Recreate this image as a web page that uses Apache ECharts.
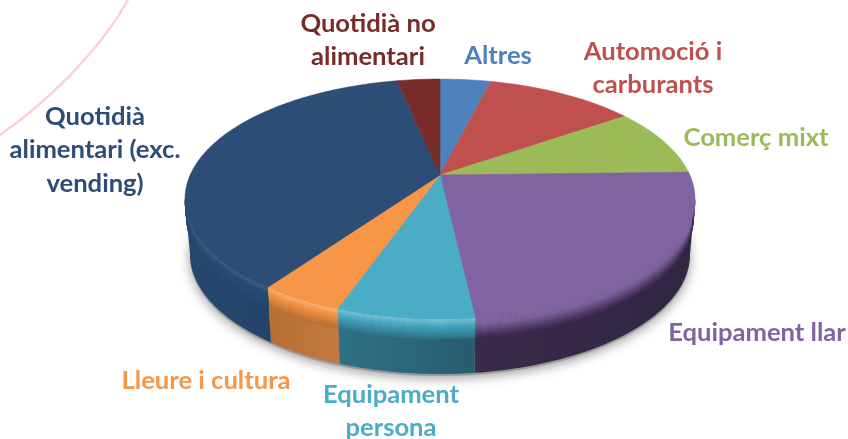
<!DOCTYPE html>
<html>
<head>
<meta charset="utf-8">
<title>Pie</title>
<style>
    html, body { margin: 0; padding: 0; background: #fff; }
    #chart { width: 848px; height: 439px; }
</style>
<script src="https://cdn.jsdelivr.net/npm/echarts@6/dist/echarts.min.js"></script>
</head>
<body>
<div id="chart"></div>
<script>
// values, share of the pie in %
var categories = ['Altres', 'Automoció i\ncarburants', 'Comerç mixt', 'Equipament llar', 'Equipament\npersona', 'Lleure i cultura', 'Quotidià\nalimentari (exc.\nvending)', 'Quotidià no\nalimentari'];
var shares = [3.9, 11.5, 9.2, 23.6, 7.2, 4.4, 36.9, 3.3];

var faceColors = ['#4f81bd', '#c0504d', '#9bbb59', '#8064a2', '#4bacc6', '#f79646', '#2c4d75', '#772c2a'];
var labelColors = ['#4f81bd', '#c0504d', '#9bbb59', '#8064a2', '#4bacc6', '#f79646', '#2c4d75', '#772c2a'];
var wallLeft = ['#2c4d75', '#772c2a', '#5f7530', '#3a2b4b', '#2f7186', '#b56e33', '#25486f', '#772c2a'];
var wallRight = ['#2c4d75', '#772c2a', '#5f7530', '#2f2642', '#285c6e', '#c47a3c', '#234369', '#772c2a'];
var rimGlow = [0, 0, 0, 0.04, 0.3, 0.3, 0.12, 0];
var labelX = [498, 653, 756, 757, 391, 206, 95, 368];
var labelY = [56, 68, 138, 333, 411, 381, 150, 40];

// pie geometry: top rim and bottom rim, apex sits above the ellipse centre (perspective)
var top_ = { cx: 440, cy: 199, rx: 255, ry: 120 };
var bottom = { cx: 440, cy: 254, rx: 250, ry: 120 };
var k = -0.2;

function rim(theta, t) {
    // theta clockwise from the top, t = 0 top rim, t = 1 bottom rim
    var u = Math.sin(theta), v = -Math.cos(theta);
    var w = 1 + k * v;
    var rx = top_.rx + (bottom.rx - top_.rx) * t;
    var ry = top_.ry + (bottom.ry - top_.ry) * t;
    var cy = top_.cy + (bottom.cy - top_.cy) * t;
    return [top_.cx + rx * Math.sqrt(1 - k * k) * u / w, cy + ry * (v + k) / w];
}

function mix(a, b, f) {
    var pa = parseInt(a.slice(1), 16), pb = parseInt(b.slice(1), 16);
    var out = [16, 8, 0].map(function (s) {
        var ca = (pa >> s) & 255, cb = (pb >> s) & 255;
        return Math.round(ca + (cb - ca) * f);
    });
    return 'rgb(' + out.join(',') + ')';
}

function arcPoints(a0, a1, t) {
    var pts = [];
    var n = Math.max(2, Math.ceil((a1 - a0) / 0.02));
    for (var i = 0; i <= n; i++) {
        pts.push(rim(a0 + (a1 - a0) * i / n, t));
    }
    return pts;
}

var total = shares.reduce(function (s, x) { return s + x; }, 0);
var starts = [];
shares.reduce(function (s, x) { starts.push(s); return s + x; }, 0);

var frontFrom = Math.PI - Math.acos(-k);
var frontTo = Math.PI + Math.acos(-k);

// rim bevel, fades from face colour with a thin glow down to the wall colour
var bevelSteps = 20, bevelDepth = 0.36;

function bevelColor(i, f) {
    if (f < 0.3) {
        return mix(faceColors[i], '#ffffff', rimGlow[i] * (1 - f / 0.3));
    }
    return mix(faceColors[i], wallLeft[i], (f - 0.3) / 0.7);
}

function renderItem(params, api) {
    var i = params.dataIndex;
    var a0 = api.value(1) / total * Math.PI * 2;
    var a1 = a0 + api.value(2) / total * Math.PI * 2;
    var children = [];
    var w0 = Math.max(a0, frontFrom), w1 = Math.min(a1, frontTo);
    if (w1 > w0) {
        var wall = arcPoints(w0, w1, 0).concat(arcPoints(w0, w1, 1).reverse());
        children.push({
            type: 'polygon',
            shape: { points: wall },
            style: {
                fill: new echarts.graphic.LinearGradient(0, 0, 1, 0, [
                    { offset: 0, color: wallLeft[i] },
                    { offset: 1, color: wallRight[i] }
                ])
            }
        });
        for (var s = 0; s < bevelSteps; s++) {
            var c = bevelColor(i, s / bevelSteps);
            children.push({
                type: 'polygon',
                shape: {
                    points: arcPoints(w0, w1, bevelDepth * s / bevelSteps)
                        .concat(arcPoints(w0, w1, bevelDepth * (s + 1) / bevelSteps).reverse())
                },
                style: { fill: c, stroke: c, lineWidth: 0.5 }
            });
        }
    }
    children.push({
        type: 'polygon',
        shape: { points: [[top_.cx, top_.cy + top_.ry * k]].concat(arcPoints(a0, a1, 0)) },
        style: { fill: faceColors[i], stroke: faceColors[i], lineWidth: 0.5 }
    });
    return { type: 'group', children: children };
}

var chart = echarts.init(document.getElementById('chart'), null, { renderer: 'canvas' });

var labels = categories.map(function (name, i) {
    return {
        type: 'text',
        x: labelX[i],
        y: labelY[i],
        z: 10,
        style: {
            text: name,
            fill: labelColors[i],
            font: 'bold 25.6px Lato',
            lineHeight: 33.5,
            align: 'center',
            verticalAlign: 'middle'
        }
    };
});

chart.setOption({
    animation: false,
    backgroundColor: '#ffffff',
    graphic: [
        {
            type: 'bezierCurve',
            shape: { x1: 128, y1: 0, x2: 0, y2: 135, cpx1: 100, cpy1: 50, cpx2: 50, cpy2: 100 },
            style: { stroke: '#fbd0de', lineWidth: 2.5, fill: null },
            z: 0
        },
        {
            type: 'ellipse',
            shape: { cx: bottom.cx, cy: bottom.cy + 2, rx: bottom.rx, ry: bottom.ry },
            style: { fill: '#999', shadowBlur: 12, shadowColor: 'rgba(0,0,0,0.4)', shadowOffsetY: 2 },
            z: 0
        }
    ].concat(labels),
    series: [{
        type: 'custom',
        coordinateSystem: 'none',
        z: 2,
        silent: true,
        renderItem: renderItem,
        encode: { value: [1, 2] },
        data: shares.map(function (s, i) { return [i, starts[i], s]; })
    }]
});
</script>
</body>
</html>
